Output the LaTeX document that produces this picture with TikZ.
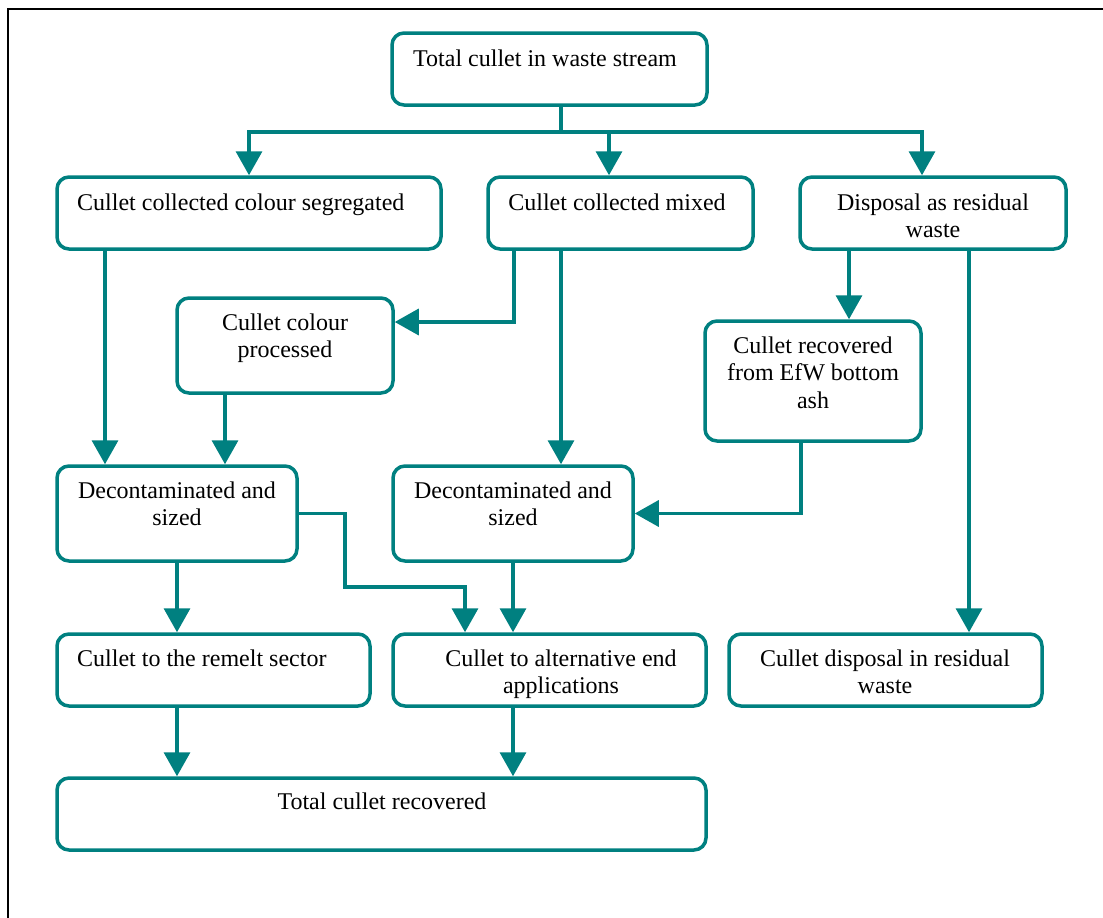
\documentclass[tikz,border=0pt]{standalone}
\usepackage{fontspec}
\setmainfont{Liberation Serif}
\usetikzlibrary{arrows.meta}
\definecolor{flowteal}{RGB}{0,128,128}
\tikzset{
  box/.style={draw=flowteal, line width=3.5pt, rounded corners=12pt, inner sep=0pt},
  txt/.style={font=\fontsize{24}{27.5}\selectfont, align=center, anchor=base, inner sep=0pt},
  flow/.style={draw=flowteal, line width=3.5pt, -{Triangle[width=26pt,length=24pt]}},
}
\begin{document}
\begin{tikzpicture}[x=1pt,y=-1pt]
\useasboundingbox (0,0) rectangle (1103,918);
\draw[line width=2pt] (8,918) -- (8,9) -- (1103,9);

% boxes
\node[box, minimum width=315, minimum height=72] (tot) at (549.5,69) {};
\node[box, minimum width=384, minimum height=72] (seg) at (249,213) {};
\node[box, minimum width=265, minimum height=72] (mix) at (620.5,213) {};
\node[box, minimum width=266, minimum height=72] (disp) at (933,213) {};
\node[box, minimum width=216, minimum height=95] (colp) at (285,345.5) {};
\node[box, minimum width=216, minimum height=120] (efw) at (813,381) {};
\node[box, minimum width=240, minimum height=95] (dec1) at (177,513.5) {};
\node[box, minimum width=240, minimum height=95] (dec2) at (513,513.5) {};
\node[box, minimum width=313, minimum height=72] (rem) at (213.5,670) {};
\node[box, minimum width=313, minimum height=72] (alt) at (549.5,670) {};
\node[box, minimum width=313, minimum height=72] (cdis) at (885.5,670) {};
\node[box, minimum width=649, minimum height=72] (totr) at (381.5,814) {};

% texts (base = last line)
\node[txt] (tot-t) at (545,66) {Total cullet in waste stream};
\node[txt, anchor=base west] (seg-t) at (77,210) {Cullet collected colour segregated};
\node[txt] (mix-t) at (617,210) {Cullet collected mixed};
\node[txt] (disp-t) at (933,237.5) {Disposal as residual\\waste};
\node[txt] (colp-t) at (285,357.5) {Cullet colour\\processed};
\node[txt] (efw-t) at (813,408) {Cullet recovered\\from EfW bottom\\ash};
\node[txt] (dec1-t) at (177,525.5) {Decontaminated and\\sized};
\node[txt] (dec2-t) at (513,525.5) {Decontaminated and\\sized};
\node[txt, anchor=base west] (rem-t) at (77,666) {Cullet to the remelt sector};
\node[txt] (alt-t) at (561,693.5) {Cullet to alternative end\\applications};
\node[txt] (cdis-t) at (885,693.5) {Cullet disposal in residual\\waste};
\node[txt] (totr-t) at (382,809) {Total cullet recovered};

% connectors
\draw[draw=flowteal, line width=3.5pt] ([xshift=11.5pt]tot.south) -- ++(0,25) coordinate (bus);
\draw[flow] (bus) -| (seg.north);
\draw[flow] (bus) -| (609,0 |- mix.north);
\draw[flow] (bus) -| (922,0 |- disp.north);
\draw[flow] (105,0 |- seg.south) -- (105,0 |- dec1.north);
\draw[flow] (514,0 |- mix.south) |- (colp.east |- 0,322);
\draw[flow] (561,0 |- mix.south) -- (561,0 |- dec2.north);
\draw[flow] (225,0 |- colp.south) -- (225,0 |- dec1.north);
\draw[flow] (849,0 |- disp.south) -- (849,0 |- efw.north);
\draw[flow] (969,0 |- disp.south) -- (969,0 |- cdis.north);
\draw[flow] (801,0 |- efw.south) |- (dec2.east);
\draw[flow] (dec1.south) -- (dec1.south |- rem.north);
\draw[flow] (dec1.east) -| (345,587) -| (465,0 |- alt.north);
\draw[flow] (dec2.south) -- (dec2.south |- alt.north);
\draw[flow] (177,0 |- rem.south) -- (177,0 |- totr.north);
\draw[flow] (513,0 |- alt.south) -- (513,0 |- totr.north);
\end{tikzpicture}
\end{document}
